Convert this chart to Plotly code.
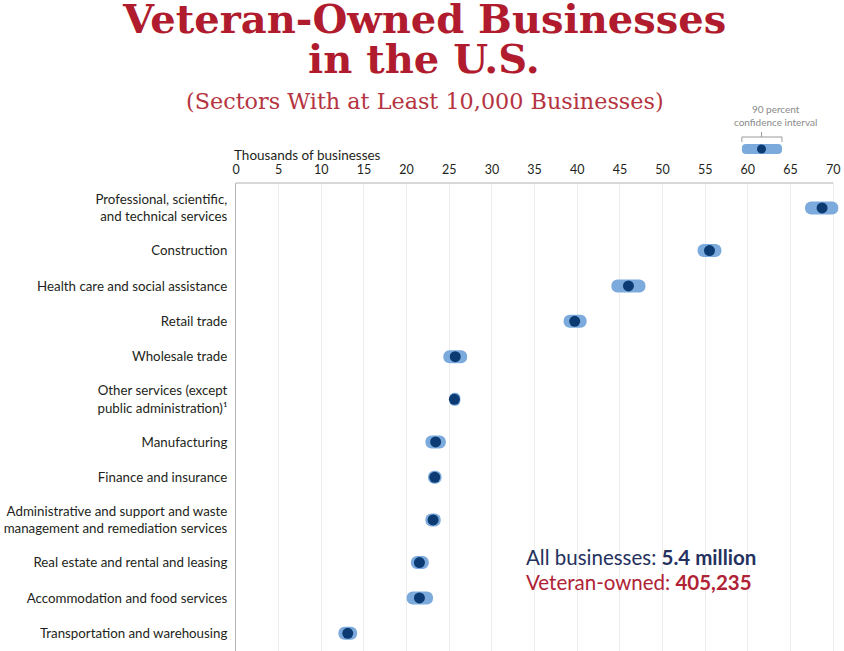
import numpy as np
import plotly.graph_objects as go

# sector labels (top to bottom), thousands of veteran-owned businesses
sectors = [
    "Professional, scientific,<br>and technical services",
    "Construction",
    "Health care and social assistance",
    "Retail trade",
    "Wholesale trade",
    "Other services (except<br>public administration)¹",
    "Manufacturing",
    "Finance and insurance",
    "Administrative and support and waste<br>management and remediation services",
    "Real estate and rental and leasing",
    "Accommodation and food services",
    "Transportation and warehousing",
]
estimate = [68.7, 55.5, 46.0, 39.7, 25.7, 25.6, 23.4, 23.3, 23.1, 21.5, 21.5, 13.1]
ci_low = [66.7, 54.1, 44.0, 38.4, 24.3, 25.0, 22.2, 22.5, 22.2, 20.5, 20.0, 12.0]
ci_high = [70.6, 56.9, 48.0, 41.1, 27.1, 26.3, 24.6, 24.1, 24.0, 22.6, 23.1, 14.2]
x_ticks = list(range(0, 75, 5))

# legend key: an example interval
key_low, key_est, key_high = 59.3, 61.6, 64.0

CI_COLOR = "#7caadc"
DOT_COLOR = "#0b3b72"
TEXT = "#231f20"
W, H = 844, 651
TOP, LEFT, RIGHT = 120, 236, 4

# two-line labels get a taller row
row_h = np.array([1.41 if "<br>" in s else 1.0 for s in sectors])
centers = np.cumsum(row_h) - row_h / 2
total = row_h.sum()
plot_top = 183
y_dom_top = (H - plot_top) / (H - TOP)


def py(px):
    # pixel row -> paper y
    return (H - px) / (H - TOP)


def pxx(px):
    # pixel column -> paper x
    return (px - LEFT) / (W - LEFT - RIGHT)


fig = go.Figure()
fig.add_trace(go.Bar(
    y=centers, base=ci_low, x=np.array(ci_high) - np.array(ci_low),
    orientation="h", width=0.37,
    marker=dict(color=CI_COLOR, cornerradius=7, line_width=0),
    hoverinfo="skip",
))
fig.add_trace(go.Scatter(
    y=centers, x=estimate, mode="markers", cliponaxis=False,
    marker=dict(color=DOT_COLOR, size=11, line_width=0),
))

# key on its own little axis pair above the chart
fig.add_trace(go.Bar(
    y=[0], base=[key_low], x=[key_high - key_low], orientation="h", width=0.62,
    marker=dict(color=CI_COLOR, cornerradius=6, line_width=0),
    xaxis="x2", yaxis="y2", hoverinfo="skip",
))
fig.add_trace(go.Scatter(
    y=[0], x=[key_est], mode="markers", cliponaxis=False,
    marker=dict(color=DOT_COLOR, size=9, line_width=0),
    xaxis="x2", yaxis="y2",
))

fig.update_layout(
    width=W, height=H,
    margin=dict(l=LEFT, r=RIGHT, t=TOP, b=0, autoexpand=False),
    paper_bgcolor="white", plot_bgcolor="white",
    showlegend=False,
    font=dict(family="Lato", color=TEXT),
    xaxis=dict(
        range=[0, 70.8], side="top", tickvals=x_ticks, automargin=False,
        showgrid=True, gridcolor="#ececec", gridwidth=1, zeroline=False,
        ticks="outside", ticklen=3, tickcolor="rgba(0,0,0,0)",
        tickfont=dict(size=12.5, color=TEXT), anchor="y",
    ),
    yaxis=dict(
        domain=[0, y_dom_top], range=[total, 0], automargin=False,
        tickvals=centers, ticktext=sectors,
        showgrid=False, zeroline=False,
        showline=True, linecolor="#b5b5b5", linewidth=1,
        tickfont=dict(size=13.3, color=TEXT), ticklabelstandoff=5,
    ),
    xaxis2=dict(matches="x", anchor="y2", visible=False),
    yaxis2=dict(domain=[py(157), py(141)], range=[-0.5, 0.5], visible=False),
)

# top border of plot, ends at 70
fig.add_shape(type="line", xref="x", yref="paper", x0=0, x1=70,
              y0=y_dom_top, y1=y_dom_top, line=dict(color="#b0b0b0", width=1))
# bracket over the key
fig.add_shape(
    type="path", xref="x", yref="paper",
    path=(f"M {key_low},{py(142)} L {key_low},{py(137)} L {key_high},{py(137)} "
          f"L {key_high},{py(142)} M {key_est},{py(137)} L {key_est},{py(132)}"),
    line=dict(color="#9a9a9a", width=1),
)

ann = [
    dict(text="Veteran-Owned Businesses", x=424, y=18, size=40,
         family="DejaVu Serif", color="#b01c2e", bold=True),
    dict(text="in the U.S.", x=424, y=59, size=40,
         family="DejaVu Serif", color="#b01c2e", bold=True),
    dict(text="(Sectors With at Least 10,000 Businesses)", x=425, y=101, size=22.3,
         family="DejaVu Serif", color="#b5343f"),
]
for a in ann:
    txt = f"<b>{a['text']}</b>" if a.get("bold") else a["text"]
    fig.add_annotation(text=txt, xref="paper", yref="paper",
                       x=pxx(a["x"]), y=py(a["y"]),
                       xanchor="center", yanchor="middle", showarrow=False,
                       font=dict(family=a["family"], size=a["size"], color=a["color"]))

fig.add_annotation(text="Thousands of businesses", xref="paper", yref="paper",
                   x=pxx(232), y=py(155),
                   xanchor="left", yanchor="middle", showarrow=False,
                   font=dict(size=13.5, color=TEXT))
fig.add_annotation(text="90 percent<br>confidence interval", xref="x", yref="paper",
                   x=63.2, y=py(116), xanchor="center", yanchor="middle",
                   showarrow=False, font=dict(size=10, color="#8a8a8a"))
fig.add_annotation(text="All businesses: <b>5.4 million</b>", xref="paper", yref="paper",
                   x=pxx(524), y=py(557),
                   xanchor="left", yanchor="middle", showarrow=False,
                   font=dict(size=20.5, color="#25315e"))
fig.add_annotation(text="Veteran-owned: <b>405,235</b>", xref="paper", yref="paper",
                   x=pxx(524), y=py(582),
                   xanchor="left", yanchor="middle", showarrow=False,
                   font=dict(size=20.5, color="#b02235"))

# drop the page's default body margin so the figure sits at the window corner
fig.write_html("out.html", config={"displayModeBar": False},
               post_script="document.body.style.margin='0';")
